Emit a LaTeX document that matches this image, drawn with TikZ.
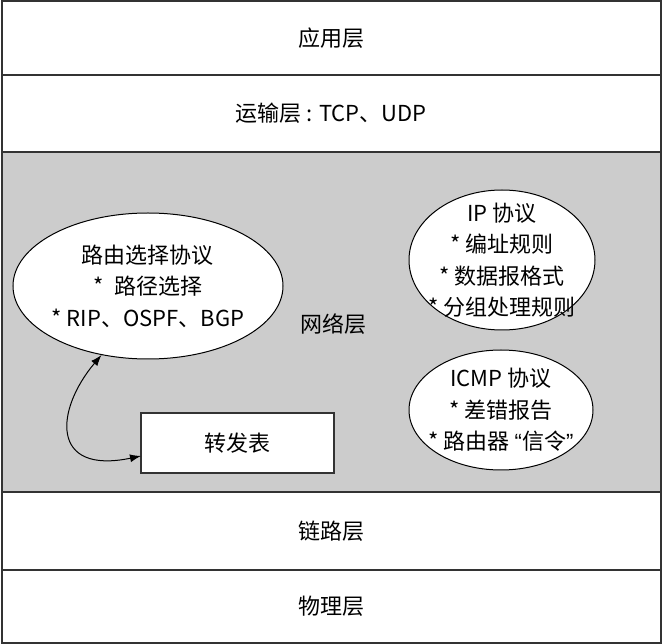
\documentclass[tikz,border=0pt]{standalone}
\usepackage{fontspec}
\setmainfont{Noto Sans CJK SC}
\newfontfamily\latinfont{Liberation Sans}
\usetikzlibrary{shapes.geometric,arrows.meta}
\definecolor{netgray}{HTML}{CCCCCC}
\definecolor{edgegray}{HTML}{333333}

\begin{document}
\begin{tikzpicture}[x=1pt, y=-1pt,
    layer/.style={draw=edgegray, line width=2pt, minimum width=659pt, inner sep=0pt, outer sep=0pt, font=\fontsize{22}{26}\selectfont},
    proto/.style={ellipse, draw, fill=white, line width=1pt, align=center, inner sep=-10pt, font=\fontsize{22}{31.5}\selectfont},
    tbl/.style={draw=edgegray, fill=white, line width=1.5pt, minimum width=193pt, minimum height=60pt, outer sep=0pt, font=\fontsize{22}{26}\selectfont}
]
\useasboundingbox (0,0) rectangle (662,644);

% the five layers
\node[layer, fill=white, minimum height=74pt] (app) at (331,38) {应用层};
\node[layer, fill=white, minimum height=77pt] (trans) at (331,113.5) {运输层 : TCP、UDP};
\node[layer, fill=netgray, minimum height=340pt] (net) at (331,322) {};
\node[layer, fill=white, minimum height=78pt] (link) at (331,531) {链路层};
\node[layer, fill=white, minimum height=73pt] (phys) at (331,606.5) {物理层};
\node[font=\fontsize{22}{26}\selectfont] (netlabel) at (333,324) {网络层};

% inside the network layer
\node[proto, minimum width=270pt, minimum height=146pt] (route) at (148,286) {
    路由选择协议\\ *\ \ 路径选择\\ * RIP、OSPF、BGP
};
\node[proto, minimum width=186pt, minimum height=140pt] (ip) at (502,260) {
    IP 协议\\ * 编址规则\\ * 数据报格式\\ * 分组处理规则
};
\node[proto, minimum width=184pt, minimum height=120pt] (icmp) at (501,410) {
    ICMP 协议\\ * 差错报告\\ * 路由器 {\latinfont “}信令{\latinfont ”}
};
\node[tbl] (fwd) at (237.5,443) {转发表};

\draw[{Latex[length=11pt,width=8pt]}-{Latex[length=11pt,width=8pt]}, line width=1pt]
    (route.236) .. controls (55,410) and (50,475) .. ([yshift=-13pt]fwd.west);
\end{tikzpicture}
\end{document}
